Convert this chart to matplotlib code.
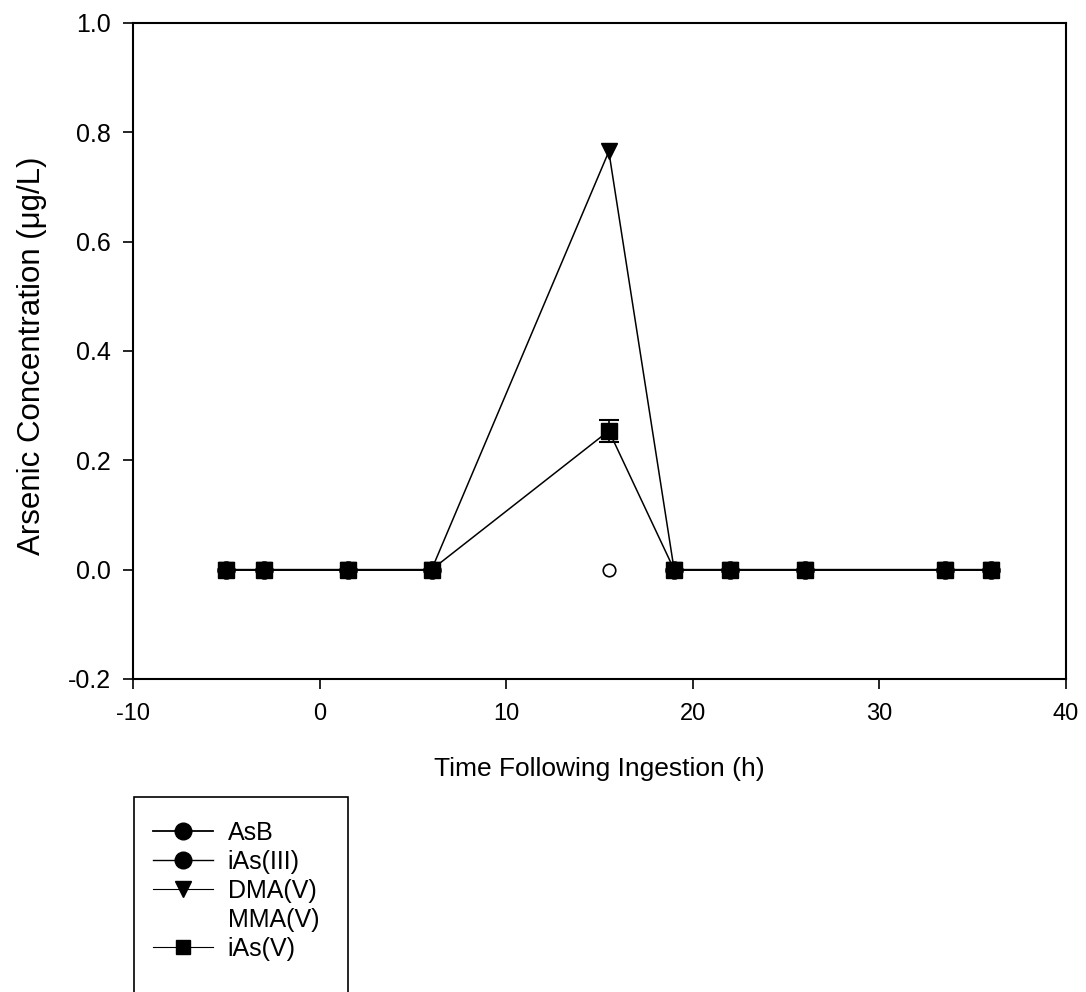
import numpy as np
import matplotlib
matplotlib.use("Agg")
import matplotlib.pyplot as plt
from matplotlib.lines import Line2D
from matplotlib.patches import Rectangle
from matplotlib.ticker import FormatStrFormatter

plt.rcParams['font.family'] = ['Liberation Sans', 'DejaVu Sans']
plt.rcParams['axes.unicode_minus'] = False

# Sampling times (h after ingestion)
time_h = [-5, -3, 1.5, 6, 15.5, 19, 22, 26, 33.5, 36]

# Species concentrations (ug/L); NaN = not reported at that time
asb = [0, 0, 0, 0, np.nan, 0, 0, 0, 0, 0]
ias3 = [0, 0, 0, 0, np.nan, 0, 0, 0, 0, 0]
dma5 = [0, 0, 0, 0, 0.765, 0, 0, 0, 0, 0]
mma5 = [0, 0, 0, 0, np.nan, 0, 0, 0, 0, 0]
ias5 = [0, 0, 0, 0, 0.254, 0, 0, 0, 0, 0]
ias5_err = [0, 0, 0, 0, 0.02, 0, 0, 0, 0, 0]

# Single open marker at the 15.5 h sample
open_time = [15.5]
open_value = [0.0]

W, H = 1086, 992
fig = plt.figure(figsize=(W / 100, H / 100), dpi=100)
ax = fig.add_axes([133 / W, 1 - 679 / H, (1066 - 133) / W, (679 - 23) / H])

ms = 12
lw = 1.1
ax.plot(time_h, asb, color='black', lw=lw, marker='o', ms=ms, label='AsB')
ax.plot(time_h, ias3, color='black', lw=lw, marker='o', ms=ms, label='iAs(III)')
ax.plot(time_h, dma5, color='black', lw=lw, marker='v', ms=ms, label='DMA(V)')
ax.plot(time_h, mma5, color='black', lw=0, marker='None', label='MMA(V)')
ax.plot(time_h, ias5, color='black', lw=lw, marker='s', ms=ms, label='iAs(V)')

# Error bars only where a deviation was reported
err_idx = [i for i, e in enumerate(ias5_err) if e > 0]
ax.errorbar([time_h[i] for i in err_idx], [ias5[i] for i in err_idx],
            yerr=[ias5_err[i] for i in err_idx], fmt='none', ecolor='black',
            elinewidth=1.2, capsize=7, capthick=1.5)

ax.plot(open_time, open_value, ls='none', marker='o', ms=9, mfc='white',
        mec='black', mew=1.2, label='_nolegend_')

ax.set_xlim(-10, 40)
ax.set_ylim(-0.2, 1.0)
ax.set_xticks([-10, 0, 10, 20, 30, 40])
ax.set_yticks([-0.2, 0.0, 0.2, 0.4, 0.6, 0.8, 1.0])
ax.yaxis.set_major_formatter(FormatStrFormatter('%.1f'))
ax.tick_params(direction='out', length=7, width=1.2)
ax.tick_params(axis='x', labelsize=17, pad=10)
ax.tick_params(axis='y', labelsize=18, pad=9)
for s in ax.spines.values():
    s.set_linewidth(1.5)

ax.set_xlabel('Time Following Ingestion (h)', fontsize=19)
ax.set_ylabel('Arsenic Concentration (\u03bcg/L)', fontsize=22.5)
ax.xaxis.set_label_coords(0.5 * (133 + 1066) / W, 1 - 769 / H,
                          transform=fig.transFigure)
ax.yaxis.set_label_coords(32 / W, 1 - 356 / H, transform=fig.transFigure)
ax.xaxis.label.set_va('center')
ax.yaxis.label.set_va('center')

handles = [
    Line2D([], [], color='black', lw=1.3, marker='o', ms=12),
    Line2D([], [], color='black', lw=1.0, marker='o', ms=12),
    Line2D([], [], color='black', lw=0.8, marker='v', ms=12),
    Line2D([], [], color='none', lw=0, marker='None'),
    Line2D([], [], color='black', lw=0.8, marker='s', ms=10),
]
labels = ['AsB', 'iAs(III)', 'DMA(V)', 'MMA(V)', 'iAs(V)']
leg = fig.legend(handles, labels, loc='upper left',
                 bbox_to_anchor=(129 / W, 1 - 797 / H),
                 frameon=False, fontsize=18,
                 handlelength=2.4, handletextpad=0.6,
                 labelspacing=0.2, borderpad=0.95, borderaxespad=0)

# Legend frame continues past the lower edge of the figure
fig.add_artist(Rectangle((134 / W, 1 - 1010 / H), (348 - 134) / W,
                         (1010 - 797) / H, transform=fig.transFigure,
                         fill=False, edgecolor='black', lw=1.2))

fig.savefig('out.png', dpi=100)
